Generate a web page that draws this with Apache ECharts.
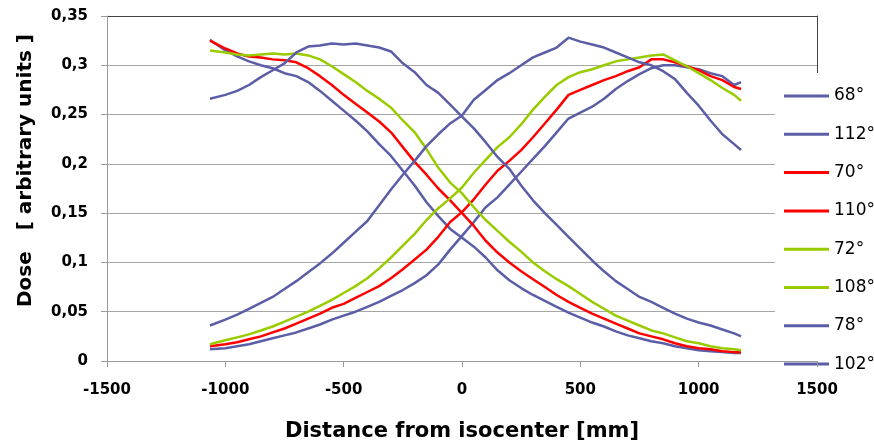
<!DOCTYPE html>
<html><head><meta charset="utf-8">
<script src="https://cdn.jsdelivr.net/npm/echarts@6/dist/echarts.min.js"></script>
<style>html,body{margin:0;padding:0;background:#fff}#c{width:874px;height:447px}</style>
</head><body><div id="c"></div>
<script>
// Distance from isocenter [mm]
const distance = [-1065,-1000,-950,-900,-850,-800,-750,-700,-650,-600,-550,-500,-450,-400,-350,-300,-250,-200,-150,-100,-50,0,50,100,150,200,250,300,350,400,450,500,550,600,650,700,750,800,850,900,950,1000,1050,1100,1150,1179];
const seriesNames = ['68°','112°','70°','110°','72°','108°','78°','102°'];
const dose68  = [0.326,0.315,0.309,0.304,0.300,0.297,0.292,0.289,0.283,0.274,0.264,0.254,0.244,0.233,0.220,0.208,0.193,0.178,0.161,0.147,0.134,0.125,0.116,0.105,0.092,0.082,0.074,0.067,0.061,0.055,0.049,0.044,0.039,0.035,0.030,0.026,0.023,0.020,0.018,0.015,0.013,0.011,0.010,0.009,0.008,0.008];
const dose112 = [0.012,0.013,0.015,0.017,0.020,0.023,0.026,0.029,0.033,0.037,0.042,0.046,0.050,0.055,0.060,0.066,0.072,0.079,0.087,0.098,0.113,0.127,0.141,0.156,0.166,0.179,0.192,0.205,0.218,0.232,0.246,0.252,0.258,0.266,0.276,0.284,0.291,0.297,0.300,0.300,0.298,0.296,0.292,0.289,0.280,0.283];
const dose70  = [0.325,0.317,0.312,0.309,0.308,0.306,0.305,0.303,0.297,0.289,0.280,0.270,0.261,0.252,0.243,0.232,0.217,0.202,0.189,0.175,0.163,0.150,0.137,0.122,0.110,0.100,0.091,0.083,0.075,0.067,0.060,0.054,0.048,0.043,0.038,0.033,0.028,0.025,0.022,0.018,0.015,0.013,0.012,0.010,0.009,0.009];
const dose110 = [0.015,0.017,0.019,0.022,0.025,0.029,0.033,0.038,0.043,0.048,0.054,0.058,0.064,0.070,0.076,0.084,0.093,0.103,0.113,0.126,0.141,0.151,0.164,0.179,0.193,0.203,0.214,0.227,0.241,0.255,0.270,0.275,0.280,0.285,0.289,0.294,0.298,0.306,0.306,0.303,0.299,0.295,0.289,0.285,0.278,0.276];
const dose72  = [0.315,0.313,0.311,0.310,0.311,0.312,0.311,0.312,0.310,0.306,0.299,0.291,0.283,0.274,0.266,0.257,0.244,0.232,0.215,0.196,0.181,0.170,0.156,0.143,0.132,0.121,0.111,0.100,0.091,0.083,0.076,0.068,0.060,0.053,0.046,0.041,0.036,0.031,0.028,0.024,0.020,0.018,0.015,0.013,0.012,0.011];
const dose108 = [0.017,0.021,0.024,0.027,0.031,0.035,0.040,0.045,0.050,0.056,0.062,0.069,0.076,0.084,0.094,0.105,0.117,0.129,0.143,0.155,0.165,0.176,0.191,0.204,0.217,0.227,0.240,0.255,0.268,0.280,0.288,0.293,0.296,0.300,0.304,0.306,0.308,0.310,0.311,0.305,0.299,0.292,0.285,0.277,0.270,0.264];
const dose78  = [0.266,0.270,0.274,0.280,0.288,0.295,0.302,0.313,0.319,0.320,0.322,0.321,0.322,0.320,0.318,0.314,0.302,0.293,0.280,0.272,0.260,0.248,0.236,0.222,0.207,0.195,0.178,0.163,0.150,0.138,0.126,0.114,0.102,0.091,0.081,0.073,0.065,0.060,0.054,0.048,0.043,0.039,0.036,0.032,0.028,0.025];
const dose102 = [0.036,0.042,0.047,0.053,0.059,0.065,0.073,0.081,0.090,0.099,0.109,0.120,0.131,0.142,0.158,0.174,0.189,0.203,0.218,0.230,0.241,0.249,0.265,0.275,0.285,0.292,0.300,0.308,0.313,0.318,0.328,0.324,0.321,0.318,0.313,0.308,0.303,0.300,0.294,0.286,0.272,0.259,0.244,0.230,0.220,0.214];
const xTickLabels = ['-1500','-1000','-500','0','500','1000','1500'];
const yTickLabels = ['0','0,05','0,1','0,15','0,2','0,25','0,3','0,35'];

const allDose = [dose68,dose112,dose70,dose110,dose72,dose108,dose78,dose102];
const BLUE = '#5b5ea6', RED = '#ff0000', GREEN = '#99cc00';
const palette = [BLUE,BLUE,RED,RED,GREEN,GREEN,BLUE,BLUE];
const FONT = 'DejaVu Sans';
const GRIDC = '#a6a6a6', FRAMEC = '#444';

const chart = echarts.init(document.getElementById('c'));
chart.setOption({
  animation: false,
  backgroundColor: '#fff',
  grid: {left:107, right:57, top:16, bottom:86, show:false},
  legend: {
    orient:'vertical', left:775, top:73, backgroundColor:'#fff', z:10,
    padding:[13,10,10,9], itemGap:18.3, itemWidth:45, itemHeight:3, icon:'rect',
    textStyle:{fontFamily:FONT, fontSize:17, color:'#000', lineHeight:20},
    data: seriesNames
  },
  xAxis: {
    type:'value', min:-1500, max:1500, interval:500, z:12,
    axisLine:{show:true, onZero:false, lineStyle:{color:'#999'}},
    axisTick:{show:true, length:6, lineStyle:{color:'#999'}},
    splitLine:{show:false},
    axisLabel:{color:'#000', fontFamily:FONT, fontWeight:'bold', fontSize:15, margin:22,
      formatter: v => xTickLabels[Math.round((v + 1500)/500)]},
    name:'Distance from isocenter [mm]', nameLocation:'middle', nameGap:60,
    nameTextStyle:{fontFamily:FONT, fontWeight:'bold', fontSize:21, color:'#000'}
  },
  yAxis: [{
    type:'value', min:0, max:0.35, interval:0.05, position:'left',
    axisLine:{show:true, onZero:false, lineStyle:{color:'#999'}},
    axisTick:{show:true, length:6, lineStyle:{color:'#999'}},
    splitLine:{lineStyle:{color:[GRIDC,GRIDC,GRIDC,GRIDC,GRIDC,GRIDC,GRIDC,FRAMEC]}},
    axisLabel:{color:'#000', fontFamily:FONT, fontWeight:'bold', fontSize:15, margin:19,
      formatter: v => yTickLabels[Math.round(v/0.05)]},
    name:'Dose   [ arbitrary units ]', nameLocation:'middle', nameGap:71,
    nameTextStyle:{fontFamily:FONT, fontWeight:'bold', fontSize:20, color:'#000', padding:[0,0,0,36]}
  },{
    type:'value', position:'right', min:0, max:0.35, interval:0.05, z:0,
    axisLine:{show:true, onZero:false, lineStyle:{color:FRAMEC}},
    axisTick:{show:false}, axisLabel:{show:false}, splitLine:{show:false}
  }],
  series: allDose.map((vals,i)=>({
    name: seriesNames[i], type:'line', showSymbol:false, symbol:'none',
    lineStyle:{width:2.5, color:palette[i]}, itemStyle:{color:palette[i]},
    data: distance.map((x,j)=>[x, vals[j]])
  }))
});
</script></body></html>
